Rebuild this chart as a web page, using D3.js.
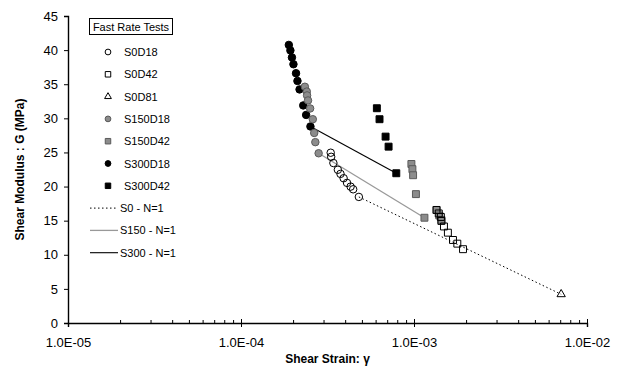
<!DOCTYPE html>
<html><head><meta charset="utf-8">
<script src="https://cdn.jsdelivr.net/npm/d3@7/dist/d3.min.js"></script>
<style>body{margin:0;background:#fff}svg{display:block}text{font-family:"Liberation Sans",Arial,sans-serif}</style>
</head><body><svg id="c" width="622" height="370"></svg>
<script>
// ---- data ----
const s0d18X = [3.30e-4,3.32e-4,3.42e-4,3.63e-4,3.76e-4,3.92e-4,4.10e-4,4.30e-4,4.45e-4,4.80e-4];
const s0d18Y = [24.96,24.36,23.45,22.46,21.86,21.22,20.54,19.99,19.60,18.48];
const s0d42X = [1.35e-3,1.39e-3,1.43e-3,1.44e-3,1.49e-3,1.57e-3,1.68e-3,1.78e-3,1.92e-3];
const s0d42Y = [16.57,16.06,15.54,14.96,14.15,13.24,12.17,11.63,10.82];
const s0d81X = [7.09e-3];
const s0d81Y = [4.21];
const s150d18X = [2.34e-4,2.40e-4,2.41e-4,2.44e-4,2.51e-4,2.60e-4,2.65e-4,2.69e-4,2.81e-4];
const s150d18Y = [34.63,33.92,33.36,32.62,31.45,29.87,27.86,26.51,24.88];
const s150d42X = [9.66e-4,9.79e-4,9.88e-4,1.026e-3,1.149e-3,1.35e-3,1.40e-3,1.44e-3];
const s150d42Y = [23.31,22.55,21.66,18.89,15.43,16.57,15.76,15.10];
const s300d18X = [1.89e-4,1.93e-4,1.97e-4,2.01e-4,2.08e-4,2.12e-4,2.18e-4,2.29e-4,2.38e-4,2.52e-4];
const s300d18Y = [40.76,39.96,38.93,37.93,36.61,35.48,34.24,31.89,30.50,28.81];
const s300d42X = [6.10e-4,6.32e-4,6.85e-4,7.13e-4,7.90e-4];
const s300d42Y = [31.48,29.87,27.32,25.85,21.95];
const s0n1X = [4.80e-4,7.09e-3],  s0n1Y = [18.48,4.21];
const s150n1X = [2.81e-4,1.149e-3], s150n1Y = [24.88,15.43];
const s300n1X = [2.52e-4,7.90e-4], s300n1Y = [28.81,21.95];
const xTicks = [1e-5,1e-4,1e-3,1e-2];
const xTickLabels = ["1.0E-05","1.0E-04","1.0E-03","1.0E-02"];
const yTicks = [0,5,10,15,20,25,30,35,40,45];
const legendTitle = "Fast Rate Tests";
const legendNames = ["S0D18","S0D42","S0D81","S150D18","S150D42","S300D18","S300D42","S0 - N=1","S150 - N=1","S300 - N=1"];

// ---- layout ----
const L = 68, R = 587, T = 16, B = 323;
const svg = d3.select("#c");
const x = d3.scaleLog().domain([1e-5,1e-2]).range([L,R]);
const y = d3.scaleLinear().domain([0,45]).range([B,T]);
const zip = (a,b) => a.map((v,i)=>[v,b[i]]);

// axes
const yAx = svg.append("g").attr("transform",`translate(${L},0)`)
  .call(d3.axisLeft(y).tickValues(yTicks).tickSize(4).tickPadding(6).tickFormat(d3.format("d")));
yAx.selectAll("text").style("font-size","13px").attr("fill","#000");
const minor = [];
for (let d=1e-5; d<1e-2*0.99; d*=10) for (let k=2;k<=9;k++) minor.push(d*k);
const xMin = svg.append("g").attr("transform",`translate(0,${B})`)
  .call(d3.axisTop(x).tickValues(minor).tickSize(3).tickFormat(""));
const xAx = svg.append("g").attr("transform",`translate(0,${B})`)
  .call(d3.axisBottom(x).tickValues(xTicks).tickSize(4).tickPadding(11).tickFormat((d,i)=>xTickLabels[i]));
xAx.selectAll(".tick line").attr("y1",-4);
xAx.selectAll("text").style("font-size","13px").attr("fill","#000");
[yAx,xAx,xMin].forEach(g=>{g.selectAll(".domain").attr("stroke","#000").attr("stroke-width",1.4);g.selectAll(".tick line").attr("stroke","#000");});
xMin.select(".domain").remove();

svg.append("text").attr("x",(L+R)/2).attr("y",363).attr("text-anchor","middle")
  .style("font-size","12px").style("font-weight","bold").text("Shear Strain: γ");
svg.append("text").attr("transform",`translate(24,${(T+B)/2}) rotate(-90)`).attr("text-anchor","middle")
  .style("font-size","12px").style("font-weight","bold").text("Shear Modulus : G (MPa)");

// lines
const line = d3.line().x(d=>x(d[0])).y(d=>y(d[1]));
const lineStyles = [
  {d:zip(s0n1X,s0n1Y), stroke:"#000", dash:"1.5,2.5", w:1},
  {d:zip(s150n1X,s150n1Y), stroke:"#999", dash:null, w:1.3},
  {d:zip(s300n1X,s300n1Y), stroke:"#000", dash:null, w:1.1}
];
lineStyles.forEach(s=>svg.append("path").datum(s.d).attr("d",line).attr("fill","none")
  .attr("stroke",s.stroke).attr("stroke-width",s.w).attr("stroke-dasharray",s.dash));

// markers
const circ = d3.symbol().type(d3.symbolCircle).size(44);
const sq = d3.symbol().type(d3.symbolSquare).size(48);
const tri = d3.symbol().type(d3.symbolTriangle).size(30);
const ms = [
  {d:zip(s300d18X,s300d18Y), sym:circ, fill:"#000", stroke:"#000"},
  {d:zip(s150d18X,s150d18Y), sym:circ, fill:"#8c8c8c", stroke:"#5a5a5a"},
  {d:zip(s300d42X,s300d42Y), sym:sq, fill:"#000", stroke:"#000"},
  {d:zip(s150d42X,s150d42Y), sym:sq, fill:"#8c8c8c", stroke:"#5a5a5a"},
  {d:zip(s0d18X,s0d18Y), sym:circ, fill:"none", stroke:"#000"},
  {d:zip(s0d42X,s0d42Y), sym:sq, fill:"none", stroke:"#000"},
  {d:zip(s0d81X,s0d81Y), sym:tri, fill:"none", stroke:"#000"}
];
ms.forEach(s=>svg.append("g").selectAll("path").data(s.d).join("path")
  .attr("transform",d=>`translate(${x(d[0])},${y(d[1])})`).attr("d",s.sym)
  .attr("fill",s.fill).attr("stroke",s.stroke).attr("stroke-width",1));

// legend
const lg = svg.append("g");
lg.append("rect").attr("x",89.5).attr("y",18.5).attr("width",83).attr("height",16).attr("fill","#fff").attr("stroke","#000");
lg.append("text").attr("x",131).attr("y",30.5).attr("text-anchor","middle").style("font-size","11px").text(legendTitle);
const lsm = [
  {sym:d3.symbol().type(d3.symbolCircle).size(26), fill:"#fff", stroke:"#000"},
  {sym:d3.symbol().type(d3.symbolSquare).size(30), fill:"#fff", stroke:"#000"},
  {sym:d3.symbol().type(d3.symbolTriangle).size(20), fill:"#fff", stroke:"#000"},
  {sym:d3.symbol().type(d3.symbolCircle).size(26), fill:"#8c8c8c", stroke:"#5a5a5a"},
  {sym:d3.symbol().type(d3.symbolSquare).size(30), fill:"#8c8c8c", stroke:"#5a5a5a"},
  {sym:d3.symbol().type(d3.symbolCircle).size(26), fill:"#000", stroke:"#000"},
  {sym:d3.symbol().type(d3.symbolSquare).size(30), fill:"#000", stroke:"#000"}
];
legendNames.forEach((n,i)=>{
  const yy = 52 + i*22.3;
  if (i<7) {
    lg.append("path").attr("transform",`translate(108,${yy})`).attr("d",lsm[i].sym)
      .attr("fill",lsm[i].fill).attr("stroke",lsm[i].stroke);
    lg.append("text").attr("x",124).attr("y",yy+4).style("font-size","11px").text(n);
  } else {
    const s = lineStyles[i-7];
    lg.append("line").attr("x1",90).attr("x2",118).attr("y1",yy).attr("y2",yy)
      .attr("stroke",s.stroke).attr("stroke-width",s.w).attr("stroke-dasharray",s.dash);
    lg.append("text").attr("x",120).attr("y",yy+4).style("font-size","11px").text(n);
  }
});
</script></body></html>
